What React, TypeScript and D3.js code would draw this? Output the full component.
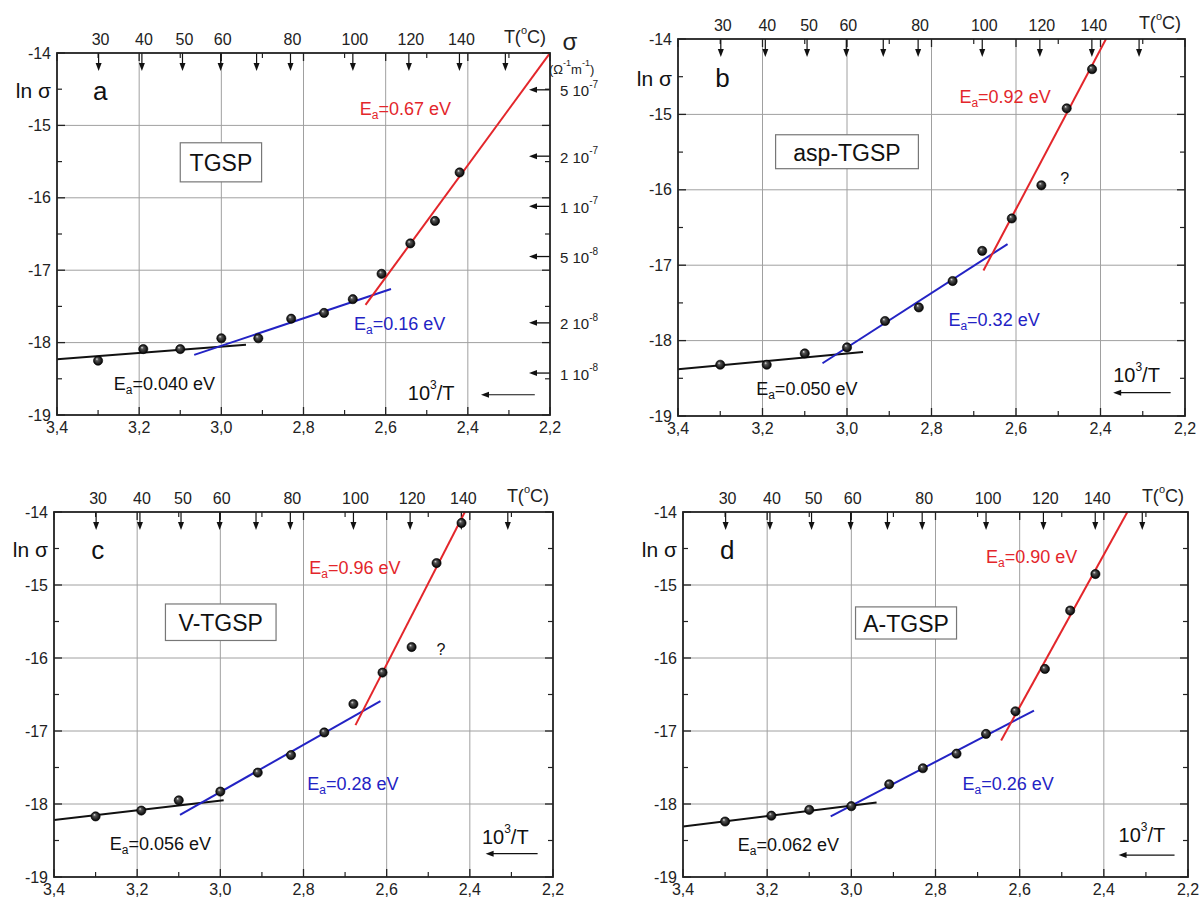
import React from 'react';
import * as d3 from 'd3';

// 10^3/T (1/K) of the measuring temperatures 30..140 °C
const invT = [3.30, 3.19, 3.10, 3.00, 2.91, 2.83, 2.75, 2.68, 2.61, 2.54, 2.48, 2.42];

// ln(sigma)
const lnSigmaA = [-18.25, -18.09, -18.09, -17.94, -17.94, -17.67, -17.59, -17.40, -17.05, -16.63, -16.32, -15.65];
const lnSigmaB = [-18.32, -18.32, -18.17, -18.09, -17.74, -17.56, -17.21, -16.81, -16.38, -15.94, -14.92, -14.40];
const lnSigmaC = [-18.17, -18.09, -17.95, -17.83, -17.57, -17.33, -17.02, -16.63, -16.20, -15.85, -14.70, -14.15];
const lnSigmaD = [-18.24, -18.16, -18.08, -18.03, -17.73, -17.51, -17.31, -17.04, -16.73, -16.15, -15.35, -14.85];

// fitted straight lines: [x, lnσ] end points, low / mid / high temperature range
const fitA = [[[3.4, -18.23], [2.94, -18.03]], [[3.066, -18.17], [2.587, -17.26]], [[2.649, -17.48], [2.2, -14.0]]];
const fitB = [[[3.4, -18.38], [2.962, -18.15]], [[3.058, -18.30], [2.62, -16.72]], [[2.677, -17.07], [2.387, -14.0]]];
const fitC = [[[3.4, -18.22], [2.992, -17.95]], [[3.097, -18.15], [2.615, -16.59]], [[2.675, -16.92], [2.412, -14.0]]];
const fitD = [[[3.4, -18.31], [2.94, -17.98]], [[3.049, -18.17], [2.566, -16.72]], [[2.644, -17.13], [2.344, -14.0]]];

// activation energies (eV) for low / mid / high range
const eaA = ['0.040', '0.16', '0.67'];
const eaB = ['0.050', '0.32', '0.92'];
const eaC = ['0.056', '0.28', '0.96'];
const eaD = ['0.062', '0.26', '0.90'];

const sampleNames = ['TGSP', 'asp-TGSP', 'V-TGSP', 'A-TGSP'];
const panelLetters = ['a', 'b', 'c', 'd'];

// axes
const xTicks = [3.4, 3.2, 3.0, 2.8, 2.6, 2.4, 2.2];
const xMinor = [3.3, 3.1, 2.9, 2.7, 2.5, 2.3];
const yTicks = [-14, -15, -16, -17, -18, -19];
const yMinor = [-14.5, -15.5, -16.5, -17.5, -18.5];
const tempArrows = [30, 40, 50, 60, 70, 80, 100, 120, 140, 160];
const tempLabels = [30, 40, 50, 60, 80, 100, 120, 140];
const sigmaTicks = [5e-7, 2e-7, 1e-7, 5e-8, 2e-8, 1e-8];
const sigmaMant = ['5', '2', '1', '5', '2', '1'];
const sigmaExp = ['-7', '-7', '-7', '-8', '-8', '-8'];

const fitColors = ['#111111', '#2323c4', '#e3262b'];
const FONT = 'Liberation Sans, Arial, sans-serif';

// layout of each panel (pixel box + label anchors in data units)
const panels = [
  {
    data: lnSigmaA, fit: fitA, ea: eaA, x0: 57, x1: 550, y0: 53, y1: 415,
    eaPos: [[3.262, -18.57], [2.677, -17.74], [2.663, -14.77]],
    box: [3.100, -15.24, 2.902, -15.78], inv: [2.546, -18.70], arrow: [2.237, 2.368, -18.72],
    question: null, sigmaAxis: true,
  },
  {
    data: lnSigmaB, fit: fitB, ea: eaB, x0: 678, x1: 1185, y0: 39, y1: 416,
    eaPos: [[3.215, -18.64], [2.76, -17.73], [2.734, -14.77]],
    box: [3.169, -15.27, 2.831, -15.72], inv: [2.37, -18.45], arrow: [2.234, 2.37, -18.69],
    question: [2.495, -15.85], sigmaAxis: false,
  },
  {
    data: lnSigmaC, fit: fitC, ea: eaC, x0: 54, x1: 553, y0: 512, y1: 877,
    eaPos: [[3.266, -18.55], [2.791, -17.73], [2.786, -14.77]],
    box: [3.132, -15.26, 2.866, -15.76], inv: [2.371, -18.45], arrow: [2.237, 2.362, -18.68],
    question: [2.48, -15.88], sigmaAxis: false,
  },
  {
    data: lnSigmaD, fit: fitD, ea: eaD, x0: 683, x1: 1188, y0: 512, y1: 877,
    eaPos: [[3.27, -18.56], [2.736, -17.73], [2.68, -14.62]],
    box: [2.99, -15.30, 2.75, -15.74], inv: [2.365, -18.42], arrow: [2.232, 2.365, -18.7],
    question: null, sigmaAxis: false,
  },
];

const fmt = (v: number) => v.toFixed(1).replace('.', ',');

function Panel({ cfg, idx }: { cfg: any; idx: number }) {
  const x = d3.scaleLinear().domain([3.4, 2.2]).range([cfg.x0, cfg.x1]);
  const y = d3.scaleLinear().domain([-14, -19]).range([cfg.y0, cfg.y1]);
  const line = d3.line<number[]>().x(d => x(d[0])).y(d => y(d[1]));
  const clipId = `clip${idx}`;
  const tY = cfg.y0 - 14;

  return (
    <g fontFamily={FONT}>
      <defs>
        <clipPath id={clipId}>
          <rect x={cfg.x0} y={cfg.y0} width={cfg.x1 - cfg.x0} height={cfg.y1 - cfg.y0} />
        </clipPath>
      </defs>

      {/* grid */}
      {xTicks.slice(1, -1).map(t => (
        <line key={'gx' + t} x1={x(t)} x2={x(t)} y1={cfg.y0} y2={cfg.y1} stroke="#a0a0a0" strokeWidth={1} />
      ))}
      {yTicks.slice(1, -1).map(t => (
        <line key={'gy' + t} x1={cfg.x0} x2={cfg.x1} y1={y(t)} y2={y(t)} stroke="#a0a0a0" strokeWidth={1} />
      ))}

      {/* ticks, inward on all sides */}
      {xTicks.map(t => (
        <g key={'tx' + t}>
          <line x1={x(t)} x2={x(t)} y1={cfg.y1} y2={cfg.y1 - 8} stroke="#222" strokeWidth={1.3} />
          <line x1={x(t)} x2={x(t)} y1={cfg.y0} y2={cfg.y0 + 8} stroke="#222" strokeWidth={1.3} />
          <text x={x(t)} y={cfg.y1 + 18} fontSize={16} textAnchor="middle" fill="#222">{fmt(t)}</text>
        </g>
      ))}
      {xMinor.map(t => (
        <g key={'mx' + t}>
          <line x1={x(t)} x2={x(t)} y1={cfg.y1} y2={cfg.y1 - 5} stroke="#222" strokeWidth={1.2} />
          <line x1={x(t)} x2={x(t)} y1={cfg.y0} y2={cfg.y0 + 5} stroke="#222" strokeWidth={1.2} />
        </g>
      ))}
      {yTicks.map(t => (
        <g key={'ty' + t}>
          <line x1={cfg.x0} x2={cfg.x0 + 8} y1={y(t)} y2={y(t)} stroke="#222" strokeWidth={1.3} />
          <line x1={cfg.x1} x2={cfg.x1 - 8} y1={y(t)} y2={y(t)} stroke="#222" strokeWidth={1.3} />
          <text x={cfg.x0 - 6} y={y(t)} fontSize={16} textAnchor="end" dominantBaseline="central" fill="#222">{t}</text>
        </g>
      ))}
      {yMinor.map(t => (
        <g key={'my' + t}>
          <line x1={cfg.x0} x2={cfg.x0 + 5} y1={y(t)} y2={y(t)} stroke="#222" strokeWidth={1.2} />
          <line x1={cfg.x1} x2={cfg.x1 - 5} y1={y(t)} y2={y(t)} stroke="#222" strokeWidth={1.2} />
        </g>
      ))}

      {/* temperature arrows on top */}
      {tempArrows.map(T => {
        const px = x(1000 / (T + 273.15));
        return (
          <g key={'ta' + T}>
            <line x1={px} x2={px} y1={cfg.y0} y2={cfg.y0 + 12} stroke="#111" strokeWidth={1.2} />
            <path d={`M${px - 3},${cfg.y0 + 10} L${px + 3},${cfg.y0 + 10} L${px},${cfg.y0 + 18} Z`} fill="#111" />
          </g>
        );
      })}
      {tempLabels.map(T => (
        <text key={'tl' + T} x={x(1000 / (T + 273.15)) + 2} y={tY} fontSize={16} textAnchor="middle"
          dominantBaseline="central" fill="#222">{T}</text>
      ))}
      <text x={x(2.2) - 4} y={tY - 2} fontSize={18} textAnchor="end" dominantBaseline="central" fill="#222">
        T(<tspan dy={-7} fontSize={11}>o</tspan><tspan dy={7}>C)</tspan>
      </text>

      {/* fitted lines */}
      <g clipPath={`url(#${clipId})`}>
        {cfg.fit.map((seg: number[][], i: number) => (
          <path key={'f' + i} d={line(seg) || ''} fill="none" stroke={fitColors[i]} strokeWidth={2} />
        ))}
      </g>

      {/* data points */}
      {invT.map((v, i) => (
        <circle key={'p' + i} cx={x(v)} cy={y(cfg.data[i])} r={4.6} fill="url(#ball)" stroke="#000" strokeWidth={0.6} />
      ))}

      {/* activation energy labels */}
      {cfg.ea.map((e: string, i: number) => (
        <text key={'ea' + i} x={x(cfg.eaPos[i][0])} y={y(cfg.eaPos[i][1])} fontSize={18}
          dominantBaseline="central" fill={fitColors[i]}>
          E<tspan dy={6} fontSize={12}>a</tspan><tspan dy={-6}>={e} eV</tspan>
        </text>
      ))}

      {/* sample box */}
      <rect x={x(cfg.box[0])} y={y(cfg.box[1])} width={x(cfg.box[2]) - x(cfg.box[0])}
        height={y(cfg.box[3]) - y(cfg.box[1])} fill="#fff" stroke="#777" strokeWidth={1.2} />
      <text x={(x(cfg.box[0]) + x(cfg.box[2])) / 2} y={(y(cfg.box[1]) + y(cfg.box[3])) / 2 + 1}
        fontSize={23} textAnchor="middle" dominantBaseline="central" fill="#111">{sampleNames[idx]}</text>

      {/* panel letter and y title */}
      <text x={x(3.295)} y={y(-14.52)} fontSize={26} textAnchor="middle" dominantBaseline="central" fill="#111">
        {panelLetters[idx]}
      </text>
      <text x={cfg.x0 - 6} y={y(-14.52)} fontSize={21} textAnchor="end" dominantBaseline="central" fill="#111">
        ln σ
      </text>

      {/* 10^3/T with arrow */}
      <text x={x(cfg.inv[0])} y={y(cfg.inv[1])} fontSize={20} dominantBaseline="central" fill="#111">
        10<tspan dy={-8} fontSize={12}>3</tspan><tspan dy={8}>/T</tspan>
      </text>
      <line x1={x(cfg.arrow[0])} x2={x(cfg.arrow[1]) + 6} y1={y(cfg.arrow[2])} y2={y(cfg.arrow[2])}
        stroke="#111" strokeWidth={1.2} />
      <path d={`M${x(cfg.arrow[1])},${y(cfg.arrow[2])} l8,-3 l0,6 Z`} fill="#111" />

      {/* "?" marks */}
      {cfg.question && (
        <text x={x(cfg.question[0])} y={y(cfg.question[1])} fontSize={16} dominantBaseline="central" fill="#111">?</text>
      )}

      {/* conductivity scale on the right */}
      {cfg.sigmaAxis && (
        <g>
          {sigmaTicks.map((s, i) => {
            const py = y(Math.log(s));
            return (
              <g key={'s' + i}>
                <line x1={cfg.x1} x2={cfg.x1 - 14} y1={py} y2={py} stroke="#111" strokeWidth={1.3} />
                <path d={`M${cfg.x1 - 21},${py} l8,-3 l0,6 Z`} fill="#111" />
                <text x={cfg.x1 + 10} y={py + 1} fontSize={15} dominantBaseline="central" fill="#222">
                  {sigmaMant[i]} 10<tspan dy={-7} fontSize={10}>{sigmaExp[i]}</tspan>
                </text>
              </g>
            );
          })}
          <text x={cfg.x1 + 20} y={tY + 2} fontSize={24} textAnchor="middle" dominantBaseline="central" fill="#222">σ</text>
          <text x={cfg.x1 - 1} y={cfg.y0 + 16} fontSize={13} dominantBaseline="central" fill="#222">
            (Ω<tspan dy={-6} fontSize={9}>-1</tspan><tspan dy={6}>m</tspan><tspan dy={-6} fontSize={9}>-1</tspan><tspan dy={6}>)</tspan>
          </text>
        </g>
      )}

      {/* frame */}
      <rect x={cfg.x0} y={cfg.y0} width={cfg.x1 - cfg.x0} height={cfg.y1 - cfg.y0} fill="none" stroke="#222" strokeWidth={1.8} />
    </g>
  );
}

export default function App() {
  return (
    <svg width={1204} height={903} viewBox="0 0 1204 903"
      style={{ position: 'absolute', left: 0, top: 0, background: '#fff' }}>
      <defs>
        <radialGradient id="ball" cx="0.5" cy="0.5" r="0.5" fx="0.35" fy="0.3">
          <stop offset="0%" stopColor="#e8e8e8" />
          <stop offset="30%" stopColor="#555" />
          <stop offset="100%" stopColor="#000" />
        </radialGradient>
      </defs>
      <rect width={1204} height={903} fill="#fff" />
      {panels.map((p, i) => (
        <Panel key={i} cfg={p} idx={i} />
      ))}
    </svg>
  );
}
